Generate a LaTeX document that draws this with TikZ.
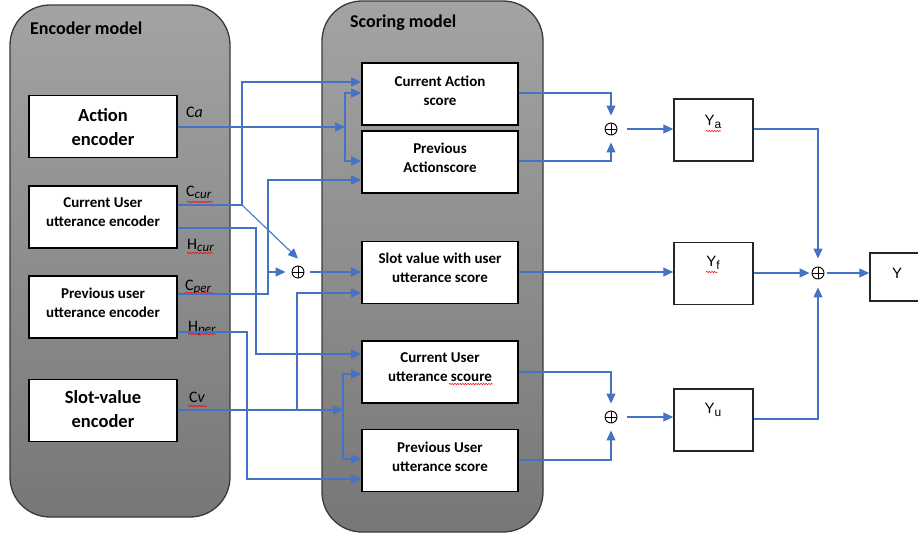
\documentclass[tikz,border=0pt]{standalone}
\usepackage{fontspec}
\setmainfont{Carlito}
\newfontfamily\arialfont{Liberation Sans}
\usetikzlibrary{arrows.meta,decorations.pathmorphing}
\definecolor{wireblue}{HTML}{4472C4}
\definecolor{pgtop}{HTML}{A3A3A3}
\definecolor{pgbot}{HTML}{777777}
\definecolor{panelborder}{HTML}{3A3A3A}
\begin{document}
\begin{tikzpicture}[x=1pt,y=-1pt,
  panel/.style={draw=panelborder, line width=1.3pt, rounded corners=40pt, top color=pgtop, bottom color=pgbot},
  paneltitle/.style={font=\fontsize{18}{20}\selectfont\bfseries, anchor=west, inner sep=0pt},
  encbox/.style={draw=black, line width=1.7pt, fill=white, minimum width=148pt, minimum height=62pt, align=center, inner sep=2pt},
  bigtxt/.style={font=\fontsize{18.5}{24}\selectfont\bfseries},
  smalltxt/.style={font=\fontsize{15}{19}\selectfont\bfseries},
  scorebox/.style={draw=black, line width=1.7pt, fill=white, minimum width=156pt, minimum height=62pt, inner sep=0pt},
  boxtext/.style={label={[align=center, inner sep=0pt, yshift=#1, font=\fontsize{15}{19}\selectfont\bfseries]center:}},
  ybox/.style={draw=black!85, line width=1.5pt, fill=white, minimum width=79pt, minimum height=62pt, inner sep=0pt},
  ylab/.style={font=\arialfont\fontsize{15}{15}\selectfont, inner sep=0pt},
  wlab/.style={font=\fontsize{16}{16}\selectfont, anchor=west, inner sep=0pt},
  txt/.style={align=center, inner sep=0pt},
  wire/.style={draw=wireblue, line width=1.1pt},
  arr/.style={wire, -{Triangle[length=10pt,width=9pt]}},
  sumnode/.style={circle, draw=black, line width=0.9pt, minimum size=12pt, inner sep=0pt,
    path picture={\draw[black, line width=0.9pt] (path picture bounding box.north) -- (path picture bounding box.south)
      (path picture bounding box.west) -- (path picture bounding box.east);}},
  squig/.style={draw=red, line width=0.5pt, decorate, decoration={snake, amplitude=0.7pt, segment length=2.6pt}}
]
\useasboundingbox (0,0) rectangle (918,536);

% panels
\path[panel] (10,5) rectangle (230,517);
\path[panel] (322,1) rectangle (543,532);
\node[paneltitle] (enctitle) at (30,28) {Encoder model};
\node[paneltitle] (scotitle) at (350,23) {Scoring model};

% encoder boxes
\node[encbox] (act) at (103,126.5) {};
\node[encbox] (cue) at (103,217) {};
\node[encbox] (pue) at (103,307) {};
\node[encbox] (sve) at (103,410.5) {};
\node[txt, bigtxt] (actt) at (103,127) {Action\\encoder};
\node[txt, smalltxt] (cuet) at (103,212.5) {Current User\\utterance encoder};
\node[txt, smalltxt] (puet) at (103,302.5) {Previous user\\utterance encoder};
\node[txt, bigtxt] (svet) at (103,409.5) {Slot-value\\encoder};

% scoring boxes
\node[scorebox] (cas) at (440,94) {};
\node[scorebox] (pas) at (440,162) {};
\node[scorebox] (svs) at (440,272.5) {};
\node[scorebox] (cus) at (440,372) {};
\node[scorebox] (pus) at (440,460.5) {};
\node[txt, smalltxt] (cast) at (440,91) {Current Action\\score};
\node[txt, smalltxt] (past) at (440,158) {Previous\\Actionscore};
\node[txt, smalltxt] (svst) at (440,267.5) {Slot value with user\\utterance score};
\node[txt, smalltxt] (cust) at (440,367) {Current User\\utterance scoure};
\node[txt, smalltxt] (pust) at (440,456.5) {Previous User\\utterance score};

% sum nodes
\node[sumnode] (ops) at (298,272) {};
\node[sumnode] (opa) at (611,129) {};
\node[sumnode] (opu) at (611,417) {};
\node[sumnode] (opf) at (818,273) {};

% output boxes
\node[ybox] (ya) at (713.5,130) {};
\node[ybox] (yf) at (713.5,273.5) {};
\node[ybox] (yu) at (713.5,420) {};
\node[ybox, minimum width=56pt, minimum height=48pt] (yy) at (898,277) {};
\node[ylab] (yal) at (713,122) {Y{\fontsize{12}{12}\selectfont\raisebox{-2.5pt}{a}}};
\node[ylab] (yfl) at (713,263) {Y{\fontsize{12}{12}\selectfont\raisebox{-2.5pt}{f}}};
\node[ylab] (yul) at (713,410) {Y{\fontsize{12}{12}\selectfont\raisebox{-2.5pt}{u}}};
\node[ylab] (yyl) at (897,273) {Y};

% wire labels
\node[wlab] (lca) at (186,112) {C\textit{a}};
\node[wlab] (lccur) at (186,192) {C{\fontsize{13}{13}\selectfont\itshape\raisebox{-2pt}{cur}}};
\node[wlab] (lhcur) at (187,245) {H{\fontsize{13}{13}\selectfont\itshape\raisebox{-2pt}{cur}}};
\node[wlab] (lcper) at (185,287) {C{\fontsize{13}{13}\selectfont\itshape\raisebox{-2pt}{per}}};
\node[wlab] (lhper) at (188,328) {H{\fontsize{13}{13}\selectfont\itshape\raisebox{-2pt}{per}}};
\node[wlab] (lcv) at (189,397) {C\textit{v}};

% spell-check squiggles
\path[squig] (187,202) -- (213,202);
\path[squig] (187,253) -- (213,253);
\path[squig] (185,293) -- (213,293);
\path[squig] (188,334) -- (216,334);
\path[squig] (188,406) -- (207,406);
\path[squig] (706,131) -- (721,131);
\path[squig] (706,272) -- (718,272);
\path[squig] (449,384) -- (493,384);

% left connectors
\draw[arr] (cue.east |- 0,205) -- (242,205) |- (cas.west |- 0,82);
\draw[arr] (242,205) -- ([yshift=7pt]ops.north);
\draw[arr] (act.east |- 0,127) -- (345,127);
\draw[arr] (345,127) |- (cas.west |- 0,93);
\draw[arr] (345,127) |- (pas.west |- 0,161);
\draw[arr] (pue.east |- 0,294) -| (268,180) -- (pas.west |- 0,180);
\draw[arr, shorten >=6pt] (268,272) -- (ops.west);
\draw[arr, shorten <=6pt] (ops.east) -- (ops -| svs.west);
\draw[arr] (cue.east |- 0,228) -| (256,354) -- (cus.west |- 0,354);
\draw[arr] (sve.east |- 0,410) -- (343,410);
\draw[arr] (343,410) |- (cus.west |- 0,374);
\draw[arr] (343,410) |- (pus.west |- 0,459);
\draw[arr] (297,410) |- (svs.west |- 0,293);
\draw[arr] (pue.east |- 0,332) -| (247,479) -- (pus.west |- 0,479);

% right connectors
\draw[arr, shorten >=7pt] (cas.east |- 0,93) -| (opa.north);
\draw[arr, shorten >=7pt] (pas.east |- 0,161) -| (opa.south);
\draw[arr, shorten <=10pt] (opa.east) -- (opa -| ya.west);
\draw[arr, shorten >=8pt] (ya.east |- 0,129) -| (opf.north);
\draw[arr] (svs.east |- 0,272) -- (yf.west |- 0,272);
\draw[arr, shorten >=2pt] (yf.east |- opf) -- (opf.west);
\draw[arr, shorten <=3pt] (opf.east) -- (opf -| yy.west);
\draw[arr, shorten >=7pt] (cus.east |- 0,372) -| (opu.north);
\draw[arr, shorten >=7pt] (pus.east |- 0,460) -| (opu.south);
\draw[arr, shorten <=10pt] (opu.east) -- (opu -| yu.west);
\draw[arr, shorten >=8pt] (yu.east |- 0,419) -| (opf.south);
\end{tikzpicture}
\end{document}
